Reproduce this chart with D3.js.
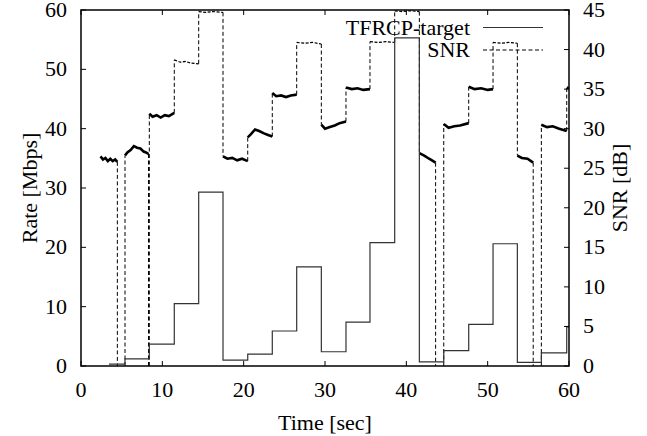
<!DOCTYPE html>
<html>
<head>
<meta charset="utf-8">
<script src="https://cdn.jsdelivr.net/npm/d3@7"></script>
<style>
  body { margin: 0; background: #fff; }
</style>
</head>
<body>
<svg id="chart" width="647" height="436" font-family="'Liberation Serif', 'Times New Roman', Times, 'DejaVu Serif', serif"></svg>
<script>
// ==== Data ====
const xTicks = [0, 10, 20, 30, 40, 50, 60];
const rateTicks = [0, 10, 20, 30, 40, 50, 60];
const snrTicks = [0, 5, 10, 15, 20, 25, 30, 35, 40, 45];

// TFRCP-target: step starts [time, Mbps]
const rateSteps = [
  [3.44, 0.3], [5.41, 1.2], [8.40, 3.7], [11.47, 10.5], [14.47, 29.3],
  [17.46, 1.0], [20.50, 2.0], [23.52, 5.9], [26.52, 16.7], [29.55, 2.4],
  [32.58, 7.4], [35.53, 20.8], [38.57, 55.3], [41.60, 0.7], [44.60, 2.6],
  [47.67, 7.0], [50.66, 20.6], [53.65, 0.6], [56.60, 2.2], [59.72, 6.6],
  [60.00, 6.6]
];

// SNR trace [time, dB]; equal times mark the vertical jumps
const snrPoints = [
  [2.4, 26.5], [2.7, 26.1], [3.0, 26.3], [3.3, 25.9], [3.6, 26.2], [3.9, 25.9], [4.2, 26.1], [4.47, 25.8],
  [4.47, 0], [5.41, 0],
  [5.41, 26.6], [5.7, 27.0], [6.1, 27.3], [6.5, 27.8], [6.9, 27.6], [7.3, 27.5], [7.7, 27.1], [8.0, 27.0], [8.3, 26.8],
  [8.3, 0], [8.4, 0],
  [8.4, 31.9], [8.8, 31.5], [9.3, 31.7], [9.8, 31.4], [10.3, 31.7], [10.8, 31.6], [11.47, 32.0],
  [11.47, 38.7], [12.2, 38.4], [12.8, 38.5], [13.5, 38.3], [14.47, 38.2],
  [14.47, 44.8], [15.3, 44.7], [16.2, 44.8], [17.46, 44.7],
  [17.46, 26.5], [18.0, 26.2], [18.6, 26.3], [19.2, 26.0], [19.8, 26.2], [20.5, 25.9],
  [20.5, 28.9], [20.9, 29.3], [21.4, 29.9], [21.9, 29.7], [22.5, 29.4], [23.0, 29.2], [23.52, 29.0],
  [23.52, 34.5], [24.0, 34.1], [24.6, 34.2], [25.2, 34.0], [25.8, 34.2], [26.52, 34.3],
  [26.52, 40.9], [27.5, 40.8], [28.5, 40.9], [29.55, 40.7],
  [29.55, 30.5], [30.0, 30.0], [30.6, 30.2], [31.2, 30.4], [31.8, 30.7], [32.58, 30.9],
  [32.58, 35.2], [33.3, 35.0], [34.0, 35.1], [34.7, 34.9], [35.53, 35.0],
  [35.53, 41.0], [36.5, 40.9], [37.5, 41.0], [38.57, 40.9],
  [38.57, 44.9], [39.5, 44.8], [40.5, 44.9], [41.6, 44.8],
  [41.6, 26.9], [42.2, 26.6], [42.8, 26.2], [43.6, 25.7],
  [43.6, 0], [44.6, 0],
  [44.6, 30.6], [45.2, 30.1], [45.9, 30.3], [46.6, 30.4], [47.67, 30.7],
  [47.67, 35.3], [48.4, 35.0], [49.2, 35.1], [50.0, 34.9], [50.66, 35.0],
  [50.66, 40.9], [51.6, 40.8], [52.6, 40.9], [53.65, 40.8],
  [53.65, 26.6], [54.2, 26.3], [54.9, 26.2], [55.6, 25.7],
  [55.6, 0], [56.6, 0],
  [56.6, 30.5], [57.3, 30.2], [58.0, 30.3], [58.8, 30.0], [59.72, 29.7],
  [59.72, 35.2], [60.0, 35.1]
];

// ==== Layout ====
const svg = d3.select("#chart");
const L = 81, R = 569, T = 10, B = 366;
const tick = 5;
const dash = "4,2.5";
const serif = "'Liberation Serif', 'Times New Roman', Times, 'DejaVu Serif', serif";

const x = d3.scaleLinear().domain([0, 60]).range([L, R]);
const y = d3.scaleLinear().domain([0, 60]).range([B, T]);
const y2 = d3.scaleLinear().domain([0, 45]).range([B, T]);

svg.append("clipPath").attr("id", "plot")
  .append("rect").attr("x", L).attr("y", T).attr("width", R - L).attr("height", B - T);

const gPlot = svg.append("g").attr("clip-path", "url(#plot)");

// ---- SNR trace: split into jumps (dashed) and noisy levels ----
const jumps = [], levels = [];
let run = [snrPoints[0]];
for (let i = 1; i < snrPoints.length; i++) {
  const a = snrPoints[i - 1], b = snrPoints[i];
  if (a[0] === b[0]) {
    levels.push(run);
    jumps.push([a, b]);
    run = [b];
  } else run.push(b);
}
levels.push(run);

const lineSnr = d3.line().x(d => x(d[0])).y(d => y2(d[1]));

gPlot.append("g").selectAll("path").data(jumps).join("path")
  .attr("d", lineSnr)
  .attr("fill", "none").attr("stroke", "#000").attr("stroke-width", 1)
  .attr("stroke-dasharray", dash);

gPlot.append("g").selectAll("path").data(levels.filter(r => d3.mean(r, d => d[1]) > 1)).join("path")
  .attr("d", lineSnr)
  .attr("fill", "none").attr("stroke", "#000")
  .attr("stroke-width", r => d3.mean(r, d => d[1]) < 37 ? 2.6 : 1.2)
  .attr("stroke-dasharray", r => d3.mean(r, d => d[1]) < 37 ? null : "3,1.5");

// ---- TFRCP-target rate ----
const lineRate = d3.line().curve(d3.curveStepAfter).x(d => x(d[0])).y(d => y(d[1]));
gPlot.append("path").datum(rateSteps)
  .attr("d", lineRate)
  .attr("fill", "none").attr("stroke", "#333").attr("stroke-width", 1.2);

// ==== Axes (gnuplot style: inward ticks) ====
const gAx = svg.append("g").attr("stroke", "#000").attr("stroke-width", 1);

gAx.selectAll(".xb").data(xTicks).join("line")
  .attr("x1", d => x(d)).attr("x2", d => x(d)).attr("y1", B).attr("y2", B - tick);
gAx.selectAll(".xt").data(xTicks).join("line")
  .attr("x1", d => x(d)).attr("x2", d => x(d)).attr("y1", T).attr("y2", T + tick);
gAx.selectAll(".yl").data(rateTicks).join("line")
  .attr("x1", L).attr("x2", L + tick).attr("y1", d => y(d)).attr("y2", d => y(d));
gAx.selectAll(".yr").data(snrTicks).join("line")
  .attr("x1", R).attr("x2", R - tick).attr("y1", d => y2(d)).attr("y2", d => y2(d));

svg.append("rect")
  .attr("x", L).attr("y", T).attr("width", R - L).attr("height", B - T)
  .attr("fill", "none").attr("stroke", "#000").attr("stroke-width", 1.5);

const fs = 22;
const txt = sel => sel.attr("font-family", serif).attr("font-size", fs).attr("fill", "#000");

svg.append("g").selectAll("text").data(xTicks).join("text")
  .attr("x", d => x(d)).attr("y", 397)
  .attr("text-anchor", "middle").call(txt).text(d => d);
svg.append("g").selectAll("text").data(rateTicks).join("text")
  .attr("x", 67).attr("y", d => Math.max(y(d) + 7, 17))
  .attr("text-anchor", "end").call(txt).text(d => d);
svg.append("g").selectAll("text").data(snrTicks).join("text")
  .attr("x", 583).attr("y", d => Math.max(y2(d) + 7, 17))
  .attr("text-anchor", "start").call(txt).text(d => d);

svg.append("text").attr("x", (L + R) / 2).attr("y", 430)
  .attr("text-anchor", "middle").call(txt).text("Time [sec]");
svg.append("text").attr("transform", `translate(37,188) rotate(-90)`)
  .attr("text-anchor", "middle").call(txt).text("Rate [Mbps]");
svg.append("text").attr("transform", `translate(627,188) rotate(-90)`)
  .attr("text-anchor", "middle").call(txt).text("SNR [dB]");

// ==== Legend ====
const legend = [
  { name: "TFRCP-target", y: 27.5, dash: null, w: 1.2, c: "#333" },
  { name: "SNR", y: 50, dash: dash, w: 1, c: "#000" }
];
const gLeg = svg.append("g");
gLeg.selectAll("text").data(legend).join("text")
  .attr("x", 470).attr("y", d => d.y + 7)
  .attr("text-anchor", "end").call(txt).text(d => d.name);
gLeg.selectAll("line").data(legend).join("line")
  .attr("x1", 483).attr("x2", 543).attr("y1", d => d.y).attr("y2", d => d.y)
  .attr("stroke", d => d.c).attr("stroke-width", d => d.w)
  .attr("stroke-dasharray", d => d.dash);
</script>
</body>
</html>
